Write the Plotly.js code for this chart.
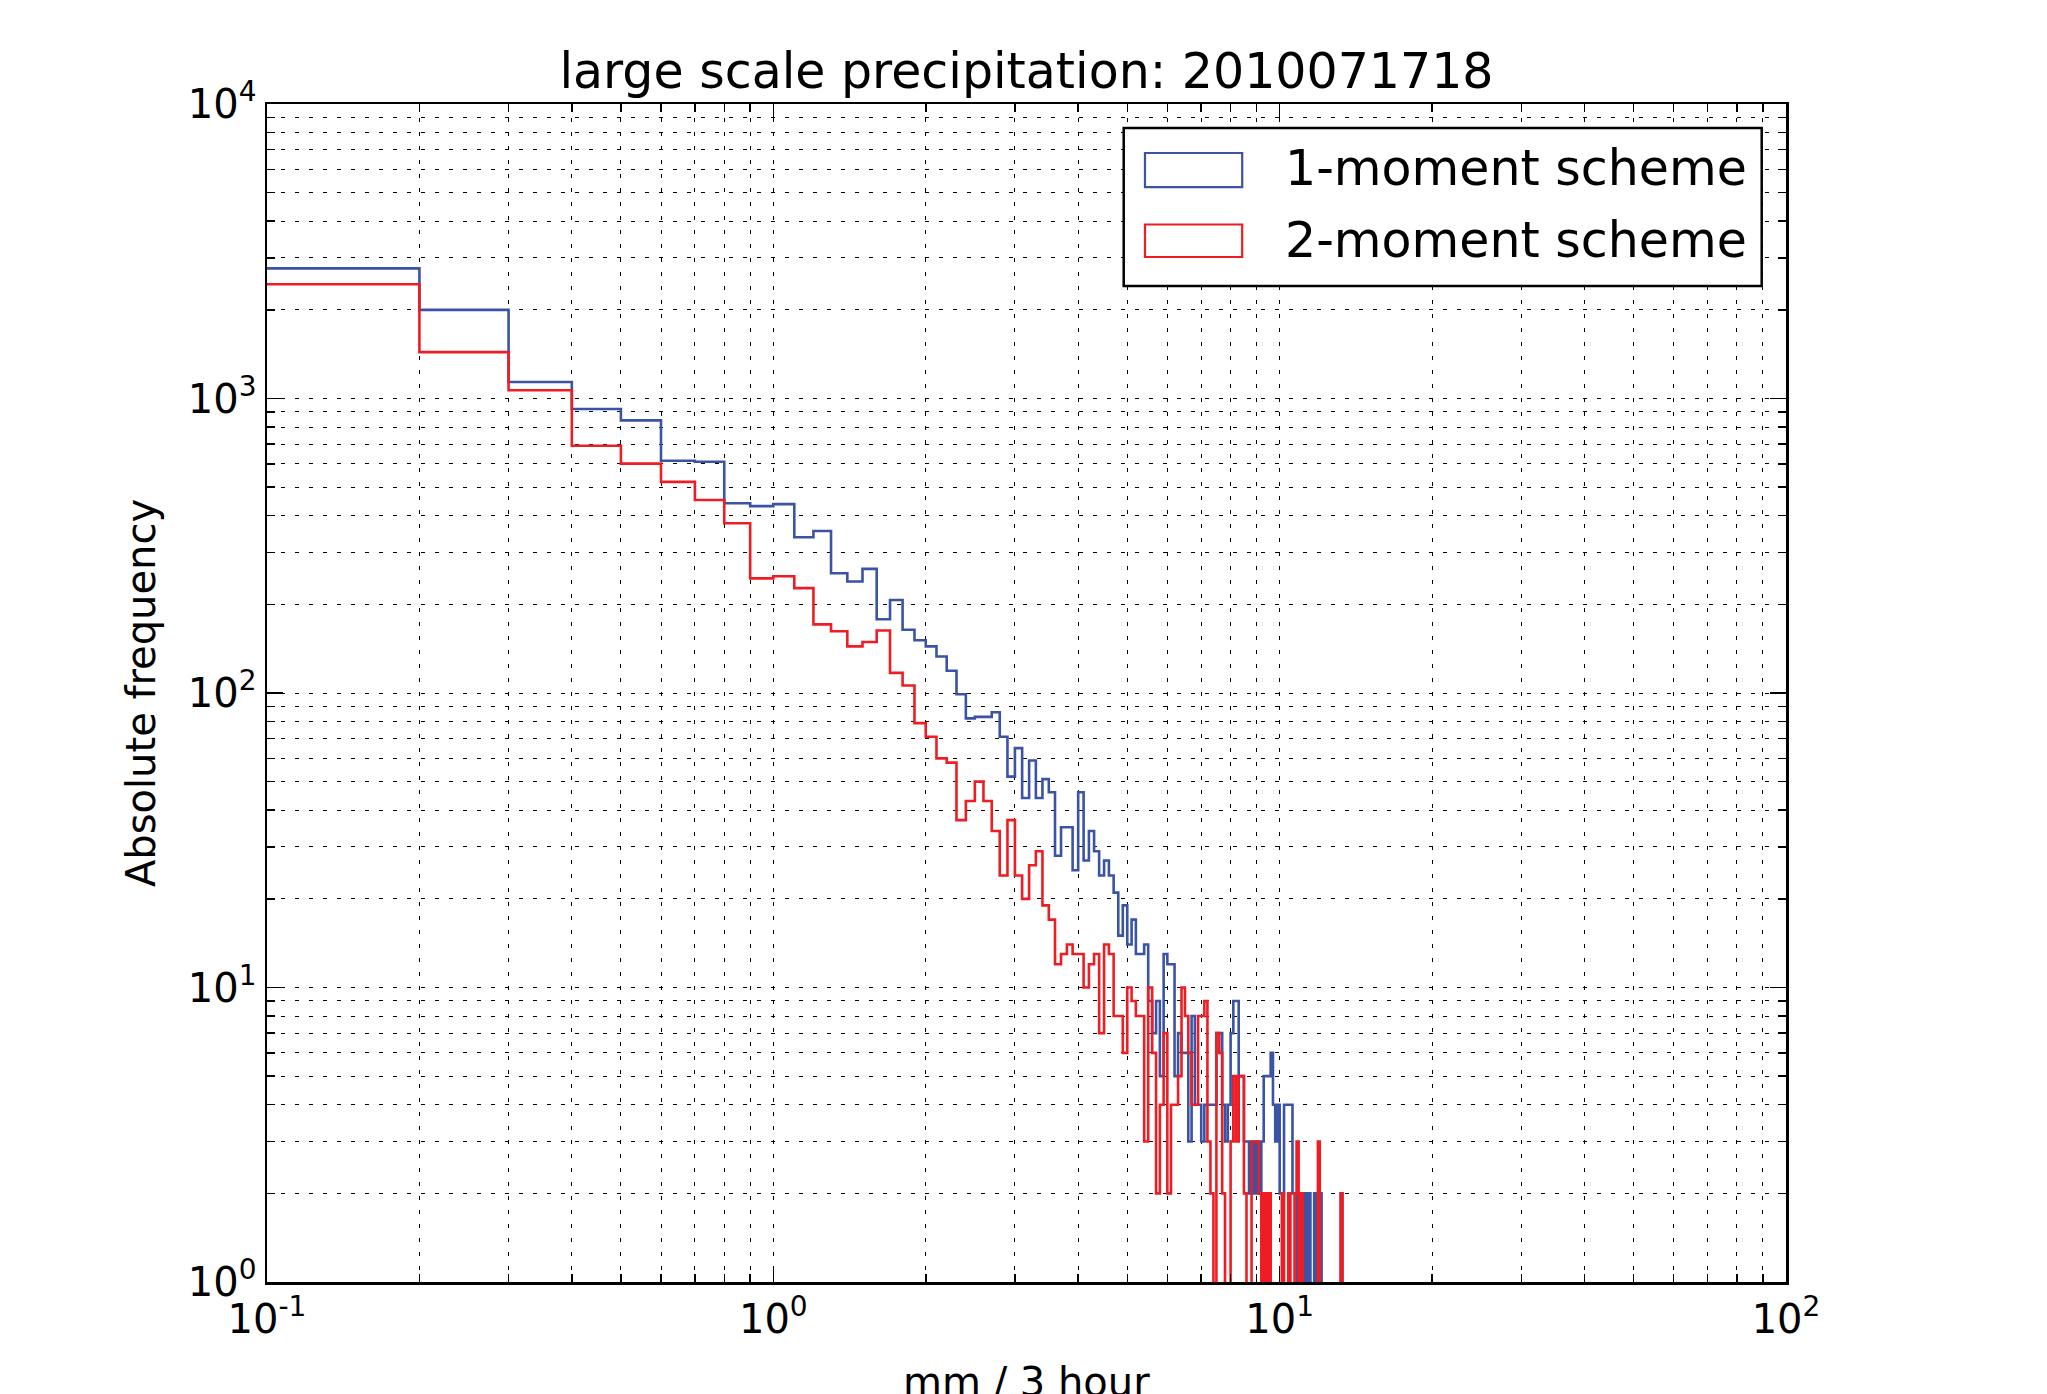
<!DOCTYPE html>
<html><head><meta charset="utf-8">
<script src="https://cdn.plot.ly/plotly-3.0.1.min.js"></script>
<style>html,body{margin:0;padding:0;background:#fff}#chart{width:2047px;height:1394px}</style>
</head><body><div id="chart"></div>
<script>
// Histogram bins: width 0.1 mm starting at 0.1 mm
const binStart = 0.1;
const binWidth = 0.1;

// Counts per bin (1-moment scheme), bins 0.1-0.2, 0.2-0.3, ... up to 14.9-15.0
const oneMoment = [
  2765, 2000, 1138, 921, 843, 615, 610, 441, 431,
  438, 338, 355, 255, 239, 264, 178, 207, 164, 151,
  144, 133, 119, 99, 82, 83, 83, 86, 71, 52,
  65, 44, 59, 44, 51, 46, 28, 35, 35, 25,
  46, 27, 34, 29, 24, 27, 24, 21, 15, 19,
  14, 17, 13, 13, 14, 9, 7, 9, 5, 13,
  12, 12, 5, 7, 6, 6, 3, 8, 4, 4,
  3, 4, 4, 4, 4, 7, 7, 4, 3, 4,
  7, 9, 9, 5, 5, 3, 3, 2, 3, 2,
  3, 2, 3, 5, 5, 5, 6, 4, 3, 4,
  2, 2, 4, 4, 4, 4, 2, 2, 0, 2,
  2, 0, 2, 0, 2, 0, 0, 2, 0, 0,
  2, 0, 0, 0, 0, 0, 0, 0, 0, 0,
  0, 0, 2, 0, 0, 0, 0, 0, 0, 0,
  0, 0, 0, 0, 0, 0, 0, 0, 0, 0
];

// Counts per bin (2-moment scheme)
const twoMoment = [
  2443, 1437, 1067, 691, 601, 521, 452, 377, 245,
  249, 227, 171, 162, 144, 149, 163, 117, 106, 79,
  71, 60, 58, 37, 43, 50, 43, 34, 24, 37,
  24, 20, 26, 29, 19, 17, 12, 13, 14, 13,
  13, 10, 12, 13, 7, 14, 13, 8, 8, 6,
  10, 9, 8, 8, 3, 10, 6, 2, 4, 7,
  2, 4, 4, 5, 10, 8, 6, 4, 4, 8,
  8, 9, 3, 2, 0, 7, 6, 2, 0, 0,
  3, 5, 3, 5, 5, 2, 0, 0, 3, 3,
  3, 2, 0, 2, 0, 2, 0, 0, 0, 0,
  0, 2, 0, 0, 2, 0, 0, 2, 3, 0,
  2, 0, 0, 0, 0, 0, 0, 0, 0, 3,
  0, 0, 0, 0, 0, 0, 0, 0, 0, 0,
  0, 0, 2, 0, 0, 0, 0, 0, 0, 0,
  0, 0, 0, 0, 0, 0, 0, 0, 0, 0
];

const seriesNames = ['1-moment scheme', '2-moment scheme'];
const seriesColors = ['#3a53a4', '#ee1d24'];

const xTickVals = [0.1, 1, 10, 100];
const xTickText = ['10<sup>-1</sup>', '10<sup>0</sup>', '10<sup>1</sup>', '10<sup>2</sup>'];
const yTickVals = [1, 10, 100, 1000, 10000];
const yTickText = ['10<sup>0</sup>', '10<sup>1</sup>', '10<sup>2</sup>', '10<sup>3</sup>', '10<sup>4</sup>'];
const minorMultipliers = [2, 3, 4, 5, 6, 7, 8, 9];

function minorVals(decades) {
  const out = [];
  decades.forEach(d => minorMultipliers.forEach(m => out.push(+(d * m).toPrecision(6))));
  return out;
}

function binEdges(n) {
  const e = [];
  for (let i = 0; i <= n; i++) e.push(+(binStart + i * binWidth).toFixed(2));
  return e;
}

// zero counts are drawn below the visible log range (as matplotlib does)
const belowAxis = 0.1;
function stepTrace(counts, color, name) {
  const x = binEdges(counts.length);
  const y = counts.map(c => (c > 0 ? c : belowAxis));
  y.push(y[y.length - 1]);
  return {
    x: x, y: y, type: 'scatter', mode: 'lines', name: name,
    line: { shape: 'hv', color: color, width: 2.6 },
    showlegend: false, hoverinfo: 'skip'
  };
}

const FONT = 'DejaVu Sans, Bitstream Vera Sans, sans-serif';
const gridDash = '4px,10px';

const axisCommon = {
  type: 'log',
  ticks: 'inside', ticklen: 16, tickwidth: 1.5, tickcolor: '#000',
  showline: true, linecolor: '#000', linewidth: 2.5, mirror: 'ticks',
  showgrid: true, gridcolor: '#000', gridwidth: 1, griddash: gridDash,
  zeroline: false,
  tickfont: { family: FONT, size: 40, color: '#000' },
  tickmode: 'array'
};

const layout = {
  width: 2047, height: 1394,
  paper_bgcolor: '#fff', plot_bgcolor: '#fff',
  margin: { l: 267, r: 261, t: 104, b: 112 },
  font: { family: FONT, color: '#000' },
  title: {
    text: 'large scale precipitation: 2010071718',
    font: { family: FONT, size: 49, color: '#000' },
    x: 0.5, xref: 'paper', xanchor: 'center',
    y: 1 - 88 / 1394, yref: 'container', yanchor: 'bottom'
  },
  xaxis: Object.assign({}, axisCommon, {
    range: [-1, 2],
    tickvals: xTickVals, ticktext: xTickText,
    minor: {
      tickmode: 'array', tickvals: minorVals([0.1, 1, 10]),
      ticks: 'inside', ticklen: 8, tickwidth: 1.5, tickcolor: '#000',
      showgrid: true, gridcolor: '#000', gridwidth: 1, griddash: gridDash
    }
  }),
  yaxis: Object.assign({}, axisCommon, {
    range: [0, 4],
    tickvals: yTickVals, ticktext: yTickText,
    minor: {
      tickmode: 'array', tickvals: minorVals([1, 10, 100, 1000]),
      ticks: 'inside', ticklen: 8, tickwidth: 1.5, tickcolor: '#000',
      showgrid: true, gridcolor: '#000', gridwidth: 1, griddash: gridDash
    },
    title: { text: 'Absolute frequency', font: { family: FONT, size: 40, color: '#000' }, standoff: 20 }
  }),
  showlegend: false,
  shapes: [
    { type: 'rect', xref: 'paper', yref: 'paper', x0: 0.564, x1: 0.984, y0: 0.8455, y1: 0.9796,
      line: { color: '#000', width: 2.5 }, fillcolor: '#fff', layer: 'above' },
    { type: 'rect', xref: 'paper', yref: 'paper', x0: 0.578, x1: 0.642, y0: 0.9295, y1: 0.9584,
      line: { color: seriesColors[0], width: 2.2 }, fillcolor: 'rgba(0,0,0,0)', layer: 'above' },
    { type: 'rect', xref: 'paper', yref: 'paper', x0: 0.578, x1: 0.642, y0: 0.8701, y1: 0.8977,
      line: { color: seriesColors[1], width: 2.2 }, fillcolor: 'rgba(0,0,0,0)', layer: 'above' }
  ],
  annotations: [
    { xref: 'paper', yref: 'paper', x: 0.6689, y: 0.945, xanchor: 'left', yanchor: 'middle',
      text: seriesNames[0], showarrow: false, font: { family: FONT, size: 49, color: '#000' } },
    { xref: 'paper', yref: 'paper', x: 0.6689, y: 0.8843, xanchor: 'left', yanchor: 'middle',
      text: seriesNames[1], showarrow: false, font: { family: FONT, size: 49, color: '#000' } },
    // x-axis title, placed low as in the reference (partly below the figure edge)
    { xref: 'paper', yref: 'paper', x: 0.5, y: -0.085, xanchor: 'center', yanchor: 'middle',
      text: 'mm / 3 hour', showarrow: false, font: { family: FONT, size: 40, color: '#000' } }
  ]
};

const data = [
  stepTrace(oneMoment, seriesColors[0], seriesNames[0]),
  stepTrace(twoMoment, seriesColors[1], seriesNames[1])
];

Plotly.newPlot('chart', data, layout, { staticPlot: true, displayModeBar: false });
</script>
</body></html>
